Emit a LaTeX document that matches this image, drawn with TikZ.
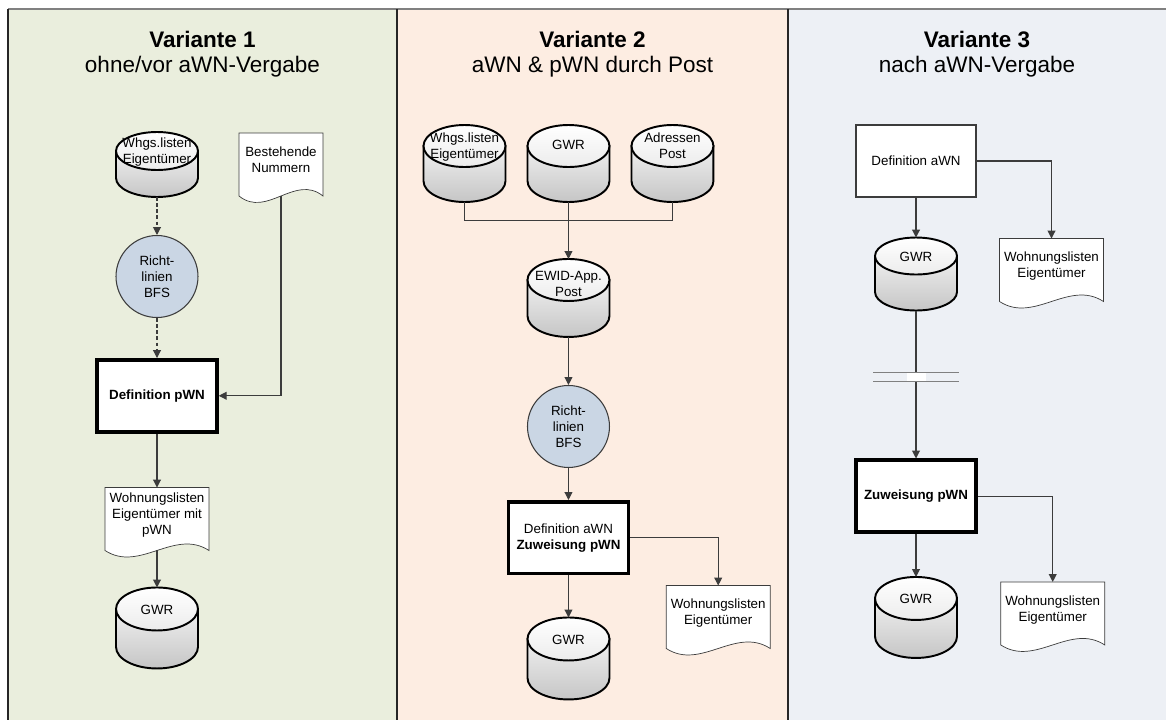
\documentclass[tikz,border=0pt]{standalone}
\usepackage{fontspec}
\setmainfont{Liberation Sans}
\usepackage{tikz}
\usetikzlibrary{arrows.meta}
\usetikzlibrary{calc}
\usetikzlibrary{positioning}
\pgfdeclarelayer{panels}
\pgfdeclarelayer{shapes}
\pgfsetlayers{panels,shapes,main}
\definecolor{panA}{HTML}{EAEEDD}
\definecolor{panB}{HTML}{FDEDE2}
\definecolor{panC}{HTML}{EDF0F5}
\definecolor{circfill}{HTML}{CAD6E4}
\definecolor{linec}{HTML}{3C3C3C}

\begin{document}
\begin{tikzpicture}[x=0.02cm, y=0.02cm, >={Triangle[length=4.5pt,width=4.5pt]}, line width=0.6pt, font=\fontsize{7.6}{9.1}\selectfont]
 \tikzstyle{titel}=[anchor=north, align=center, inner sep=0pt, font=\fontsize{12.8}{13.8}\selectfont]
 \tikzstyle{db}=[minimum width=1.64cm, minimum height=1.62cm, inner sep=0pt, outer sep=0pt, align=center, text depth=21pt]
 \tikzstyle{dbtwo}=[db, text depth=16pt]
 \tikzstyle{doc}=[minimum width=2.08cm, minimum height=1.26cm, inner sep=0pt, outer sep=0pt, align=center, text depth=6pt]
 \tikzstyle{proc}=[draw=linec, fill=white, minimum width=2.4cm, minimum height=1.44cm, align=center]
 \tikzstyle{procbold}=[proc, draw=black, line width=2pt]
 \tikzstyle{rund}=[circle, draw=linec, fill=circfill, minimum size=1.64cm, inner sep=0pt, align=center]
 \tikzstyle{flow}=[->, draw=linec]
 \tikzstyle{flowdash}=[flow, dash pattern=on 2pt off 1.5pt]

 \useasboundingbox (0,0) rectangle (1166,-720);

 % Variante 1
 \node[titel] (T1) at (202.5,-31) {\textbf{Variante 1}\\ohne/vor aWN-Vergabe};
 \node[dbtwo, minimum height=1.3cm] (W1) at (157,-164.5) {Whgs.listen\\Eigentümer};
 \node[doc, minimum width=1.68cm] (B1) [right=0.82cm of W1] {Bestehende\\Nummern};
 \node[rund] (R1) [below=0.76cm of W1] {Richt-\\linien\\BFS};
 \node[procbold] (D1) [below=0.8cm of R1] {\textbf{Definition pWN}};
 \node[doc] (L1) [below=1.08cm of D1] {Wohnungslisten\\Eigentümer mit\\pWN};
 \node[db] (G1) [below=0.74cm of L1] {GWR};

 % Variante 2
 \node[titel] (T2) at (592.5,-31) {\textbf{Variante 2}\\aWN \& pWN durch Post};
 \node[dbtwo, minimum height=1.54cm, text depth=20pt] (W2) at (464.5,-163.5) {Whgs.listen\\Eigentümer};
 \node[db, minimum height=1.54cm] (G2) [right=0.44cm of W2] {GWR};
 \node[dbtwo, minimum height=1.54cm, text depth=20pt] (A2) [right=0.44cm of G2] {Adressen\\Post};
 \node[dbtwo, minimum height=1.56cm] (E2) [below=1.14cm of G2] {EWID-App.\\Post};
 \node[rund] (R2) [below=0.96cm of E2] {Richt-\\linien\\BFS};
 \node[procbold] (D2) [below=0.64cm of R2] {Definition aWN\\\textbf{Zuweisung pWN}};
 \node[db, minimum height=1.64cm] (G2b) [below=0.84cm of D2] {GWR};
 \node[doc] (L2) [below right=0.2cm and 0.72cm of D2] {Wohnungslisten\\Eigentümer};

 % Variante 3
 \node[titel] (T3) at (977,-31) {\textbf{Variante 3}\\nach aWN-Vergabe};
 \node[proc] (D3) at (916,-161) {Definition aWN};
 \node[db, minimum height=1.46cm, text depth=19pt] (G3) [below=0.8cm of D3] {GWR};
 \node[doc] (L3) [below right=0.82cm and 0.46cm of D3] {Wohnungslisten\\Eigentümer};
 \node[procbold] (Z3) [below=2.96cm of G3] {\textbf{Zuweisung pWN}};
 \node[doc] (L3b) [below right=0.96cm and 0.46cm of Z3] {Wohnungslisten\\Eigentümer};
 \node[db] (G3b) [below=0.86cm of Z3] {GWR};

 % Verbindungen
 \draw[flowdash] (W1) -- (R1);
 \draw[flowdash] (R1) -- (D1);
 \draw[flow] (B1.south) |- (D1.east);
 \draw[flow] (D1) -- (L1);
 \draw[flow] (L1) -- (G1);

 \coordinate (J2) at ($(G2.south)!0.33!(E2.north)$);
 \draw[linec] (W2.south) |- (J2) -| (A2.south);
 \draw[flow] (G2) -- (E2);
 \draw[flow] (E2) -- (R2);
 \draw[flow] (R2) -- (D2);
 \draw[flow] (D2) -- (G2b);
 \draw[flow] (D2.east) -| (L2.north);

 \draw[flow] (D3) -- (G3);
 \draw[flow] (D3.east) -| (L3.north);
 \draw[flow] (G3) -- (Z3);
 \draw[flow] (Z3) -- (G3b);
 \draw[flow] (Z3.east) -| (L3b.north);

 % Unterbruch
 \coordinate (U3) at ($(G3.south)!0.45!(Z3.north)$);
 \fill[white] ($(U3)+(-0.19cm,0.09cm)$) rectangle ($(U3)+(0.19cm,-0.09cm)$);
 \draw[gray, line width=0.9pt] ($(U3)+(-0.86cm,0.09cm)$) -- ++(1.72cm,0pt)
                               ($(U3)+(-0.86cm,-0.09cm)$) -- ++(1.72cm,0pt);

 % Zylinder und Dokumente
 \begin{pgfonlayer}{shapes}
  \foreach \cyl/\ry in {W1/0.38,G1/0.43,W2/0.42,G2/0.42,A2/0.42,E2/0.42,G2b/0.43,G3/0.37,G3b/0.43}{
   \draw[line width=1.1pt, top color=gray!12, bottom color=gray!45]
     ([yshift=-\ry cm]\cyl.north west) -- ([yshift=\ry cm]\cyl.south west)
     arc[start angle=180, end angle=360, x radius=0.82cm, y radius=\ry cm]
     -- ([yshift=-\ry cm]\cyl.north east) -- cycle;
   \draw[line width=1.1pt, top color=white, bottom color=gray!15]
     ([yshift=-\ry cm]\cyl.north) ellipse [x radius=0.82cm, y radius=\ry cm];
  }
  \foreach \dokument in {B1,L1,L2,L3,L3b}{
   \draw[linec, fill=white] (\dokument.south west) -- (\dokument.north west)
     -- (\dokument.north east) -- (\dokument.south east)
     .. controls ($(\dokument.south east)!0.333!(\dokument.south west)+(0pt,0.45cm)$)
     and ($(\dokument.south east)!0.667!(\dokument.south west)+(0pt,-0.45cm)$)
     .. (\dokument.south west) -- cycle;
  }
 \end{pgfonlayer}

 % Hintergrund
 \begin{pgfonlayer}{panels}
  \foreach \xa/\xb/\farbe in {8/397/panA,397/788/panB,788/1166/panC}
   \fill[\farbe] (\xa,-9) rectangle (\xb,-720);
  \draw[gray, line width=1.2pt] (8,-9) -- (1166,-9);
  \foreach \xa in {8,397,788}
   \draw[black!85, line width=0.9pt] (\xa,-9) -- (\xa,-720);
 \end{pgfonlayer}
\end{tikzpicture}
\end{document}
